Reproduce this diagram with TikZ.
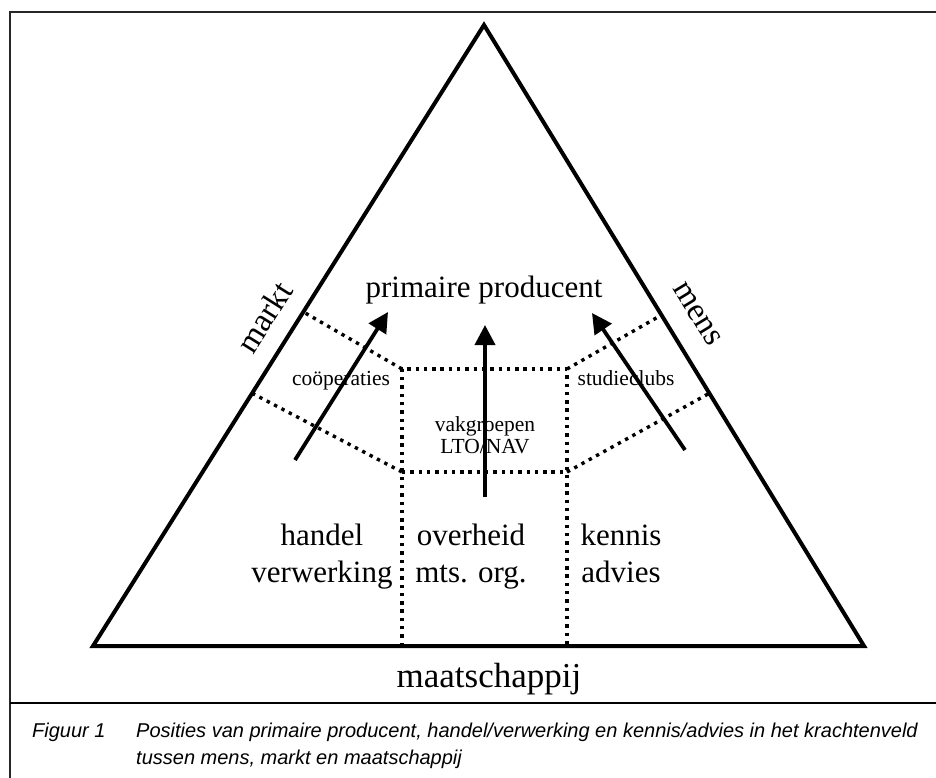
\documentclass[tikz,border=0pt]{standalone}
\usepackage{fontspec}
\setmainfont{Liberation Serif}
\newfontfamily\capfont{Liberation Sans}
\usetikzlibrary{arrows.meta,calc}
\begin{document}
\begin{tikzpicture}[x=1pt,y=-1pt,
  side/.style={line width=4pt,line join=miter},
  dotline/.style={line width=3.4pt,dash pattern=on 3.4pt off 4.9pt},
  push/.style={line width=3.8pt,-{Triangle[length=20pt,width=20pt]}},
  big/.style={font=\fontsize{31}{37}\selectfont,inner sep=0pt,align=center,anchor=base},
  small/.style={font=\fontsize{21.5}{22}\selectfont,inner sep=0pt,align=center,anchor=base},
  capt/.style={font=\capfont\itshape\fontsize{20}{27}\selectfont,inner sep=0pt,anchor=base west}]
  \useasboundingbox (0,0) rectangle (936,778);
  \draw[line width=2pt,black!85] (10,778) -- (10,12) -- (936,12);
  \draw[line width=2.5pt] (10,703) -- (936,703);
  % driehoek
  \coordinate (L) at (93,646); \coordinate (T) at (484,25); \coordinate (R) at (864,646);
  \draw[side] (L) -- (T) -- (R) -- cycle;
  % vakken
  \coordinate (bl) at (402,472); \coordinate (br) at (567,472);
  \coordinate (tl) at (402,369); \coordinate (tr) at (567,369);
  \coordinate (fl) at (402,646); \coordinate (fr) at (567,646);
  \draw[dotline] (fl) -- (bl) -- (tl) -- (tr) -- (br) -- (fr) (bl) -- (br);
  \draw[dotline] (tl) -- ($(L)!.538!(T)$) (bl) -- ($(L)!.407!(T)$);
  \draw[dotline] (tr) -- ($(R)!.533!(T)$) (br) -- ($(R)!.407!(T)$);
  % pijlen
  \coordinate (a1) at (295,460); \coordinate (b1) at (388,312);
  \coordinate (a2) at (485,497); \coordinate (b2) at (485,325);
  \coordinate (a3) at (685,450); \coordinate (b3) at (592,313);
  \foreach \i in {1,2,3} \draw[push] (a\i) -- (b\i);
  % teksten
  \node[big] (prod) at (484,297) {primaire producent};
  \node[big] (hand) at (322,582) {handel\\verwerking};
  \node[big] (over) at (471,582) {overheid\\mts. org.};
  \node[big] (kenn) at (621,582) {kennis\\advies};
  \node[big,font=\fontsize{35}{40}\selectfont] (maat) at (489,687) {maatschappij};
  \node[big,anchor=center,font=\fontsize{33}{40}\selectfont,rotate=57.8] (mark) at (264,317) {markt};
  \node[big,anchor=center,font=\fontsize{33}{40}\selectfont,rotate=-58.5] (mens) at (697,314) {mens};
  \node[small] (coop) at (341,385) {coöperaties};
  \node[small] (stud) at (626,385) {studieclubs};
  \node[small] (vakg) at (485,453) {vakgroepen\\LTO/NAV};
  \node[capt] (fig) at (32,737) {Figuur 1};
  \node[capt,align=left] (cap) at (136,764)
    {Posities van primaire producent, handel/verwerking en kennis/advies in het krachtenveld\\tussen mens, markt en maatschappij};
\end{tikzpicture}
\end{document}
